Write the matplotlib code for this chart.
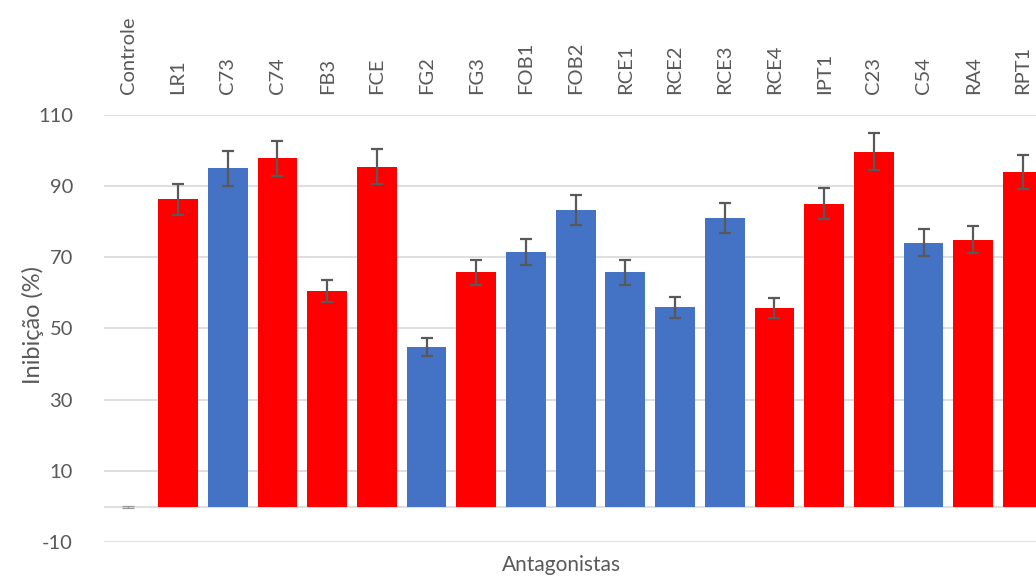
import matplotlib
matplotlib.use("Agg")
import matplotlib.pyplot as plt

categories = ["Controle", "LR1", "C73", "C74", "FB3", "FCE", "FG2", "FG3", "FOB1", "FOB2",
              "RCE1", "RCE2", "RCE3", "RCE4", "IPT1", "C23", "C54", "RA4", "RPT1"]
values = [0, 86.2, 94.9, 97.7, 60.4, 95.4, 44.8, 65.7, 71.4, 83.3,
          65.7, 55.9, 80.9, 55.7, 85.0, 99.6, 74.0, 74.9, 94.0]
errors = [0.3, 4.3, 4.8, 5.0, 3.1, 5.0, 2.5, 3.4, 3.7, 4.2,
          3.4, 2.9, 4.2, 2.9, 4.3, 5.1, 3.8, 3.8, 4.8]
groups = ["c", "r", "b", "r", "r", "r", "b", "r", "b", "b",
          "b", "b", "b", "r", "r", "r", "b", "r", "r"]
yticks = [-10, 10, 30, 50, 70, 90, 110]

palette = {"r": "#FF0000", "b": "#4472C4", "c": "#FFFFFF"}
colors = [palette[g] for g in groups]

W, H = 1036, 577
fig = plt.figure(figsize=(W / 100, H / 100), dpi=100)
left_px, right_px = 103.5, 1047.8
bottom_px, top_px = 542.3, 114.6
ax = fig.add_axes([left_px / W, (H - bottom_px) / H,
                   (right_px - left_px) / W, (bottom_px - top_px) / H])

font = "Lato"
tc = "#595959"
x = list(range(len(categories)))
ax.bar(x, values, width=0.8, color=colors, zorder=2)
ax.errorbar(x[1:], values[1:], yerr=errors[1:], fmt="none", ecolor="#595959",
            elinewidth=1.6, capsize=4.3, capthick=1.6, zorder=3)
ax.errorbar(x[:1], values[:1], yerr=errors[:1], fmt="none", ecolor="#9A9A9A",
            elinewidth=0.9, capsize=4.3, capthick=0.9, zorder=3)

ax.set_xlim(-0.5, len(categories) - 0.5)
ax.set_ylim(-10, 110)
ax.set_yticks(yticks)
ax.set_yticklabels([str(t) for t in yticks], fontsize=14.5, color=tc, family=font)
ax.yaxis.grid(True, color="#D9D9D9", linewidth=1.2, zorder=0)
ax.axhline(0, color="#D9D9D9", linewidth=1.2, zorder=1)
ax.tick_params(axis="y", length=0, pad=22)

ax.xaxis.tick_top()
ax.set_xticks(x)
ax.set_xticklabels(categories, rotation=90, fontsize=14.5, color=tc, family=font)
ax.tick_params(axis="x", length=0, pad=15)

for s in ax.spines.values():
    s.set_visible(False)

fig.text(33 / W, 1 - 325 / H, "Inibição (%)", ha="center", va="center", rotation=90,
         fontsize=17, color=tc, family=font)
fig.text(562 / W, 1 - 565 / H, "Antagonistas", ha="center", va="center",
         fontsize=15, color=tc, family=font)

fig.savefig("out.png", dpi=100)
